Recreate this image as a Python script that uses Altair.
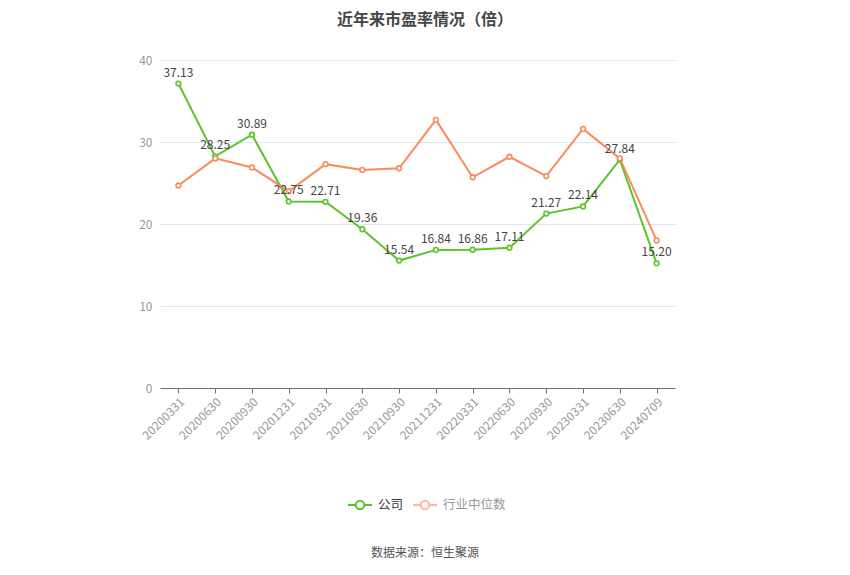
import altair as alt
import pandas as pd

dates = ["20200331", "20200630", "20200930", "20201231", "20210331", "20210630",
         "20210930", "20211231", "20220331", "20220630", "20220930", "20230331",
         "20230630", "20240709"]
company = [37.13, 28.25, 30.89, 22.75, 22.71, 19.36, 15.54, 16.84, 16.86, 17.11,
           21.27, 22.14, 27.84, 15.20]
industry = [24.7, 28.0, 26.9, 24.0, 27.3, 26.6, 26.8, 32.7, 25.7, 28.2, 25.85,
            31.6, 28.0, 18.0]
series_names = ["公司", "行业中位数"]
colors = ["#5ac42a", "#f98b5c"]
title_text = "近年来市盈率情况（倍）"
source_text = "数据来源：恒生聚源"

FONT = "Noto Sans CJK SC"

rows = []
for d, c, i in zip(dates, company, industry):
    rows.append({"date": d, "series": series_names[0], "value": c})
    rows.append({"date": d, "series": series_names[1], "value": i})
df = pd.DataFrame(rows)
df_c = pd.DataFrame({"date": dates, "value": company, "label": [f"{v:.2f}" for v in company]})

xenc = alt.X("date:N", sort=dates, title=None,
             scale=alt.Scale(type="point", padding=0.5),
             axis=alt.Axis(labelAngle=-45, labelAlign="right", labelBaseline="top",
                           labelColor="#999999", labelFontSize=12, labelFont=FONT,
                           domainColor="#6e7079", tickColor="#6e7079", tickSize=5,
                           labelPadding=3, grid=False))
yenc = alt.Y("value:Q", title=None,
             scale=alt.Scale(domain=[0, 40], nice=False),
             axis=alt.Axis(values=[0, 10, 20, 30, 40], labelColor="#999999",
                           labelFontSize=12, labelFont=FONT, domain=False, ticks=False,
                           gridColor="#e0e6f1", labelPadding=8))
color = alt.Color("series:N", scale=alt.Scale(domain=series_names, range=colors), legend=None)

lines = alt.Chart(df).mark_line(strokeWidth=2).encode(x=xenc, y=yenc, color=color,
                                                      detail="series:N")
points = alt.Chart(df).mark_point(shape="circle", filled=False, fill="white", fillOpacity=1,
                                  size=22, strokeWidth=1.6, opacity=1).encode(
    x=alt.X("date:N", sort=dates), y="value:Q", color=color)
labels = alt.Chart(df_c).mark_text(dy=-11, fontSize=12, font=FONT, color="#444444").encode(
    x=alt.X("date:N", sort=dates), y="value:Q", text="label:N")

title = alt.Chart(pd.DataFrame({"t": [title_text]})).mark_text(
    fontSize=16, fontWeight="bold", font=FONT, color="#464646",
    align="center", baseline="middle").encode(
    x=alt.value(265), y=alt.value(-40), text="t:N")
src = alt.Chart(pd.DataFrame({"t": [source_text]})).mark_text(
    fontSize=12, font=FONT, color="#555555", align="center", baseline="middle").encode(
    x=alt.value(265), y=alt.value(493), text="t:N")

leg_layers = []
leg_x = [200, 265]
leg_text_color = ["#333333", "#999999"]
leg_sym_color = [colors[0], "#fdb8a0"]
for k in range(2):
    cx = leg_x[k]
    d1 = pd.DataFrame({"t": [series_names[k]]})
    leg_layers.append(alt.Chart(d1).mark_rule(strokeWidth=2, color=leg_sym_color[k]).encode(
        x=alt.value(cx - 12), x2=alt.value(cx + 12), y=alt.value(445)))
    leg_layers.append(alt.Chart(d1).mark_point(shape="circle", filled=False, fill="white",
                                               fillOpacity=1, size=70, strokeWidth=2,
                                               color=leg_sym_color[k], opacity=1).encode(
        x=alt.value(cx), y=alt.value(445)))
    leg_layers.append(alt.Chart(d1).mark_text(fontSize=12.5, font=FONT, color=leg_text_color[k],
                                              align="left", baseline="middle").encode(
        x=alt.value(cx + 18), y=alt.value(445), text="t:N"))

chart = alt.layer(lines, points, labels, title, src, *leg_layers).properties(
    width=515, height=328,
    padding={"left": 152, "top": 52, "right": 167, "bottom": 179},
    autosize=alt.AutoSizeParams(type="none"),
    background="white",
).configure_view(stroke=None)

chart.save("out.html", embed_options={"renderer": "svg", "actions": False})
